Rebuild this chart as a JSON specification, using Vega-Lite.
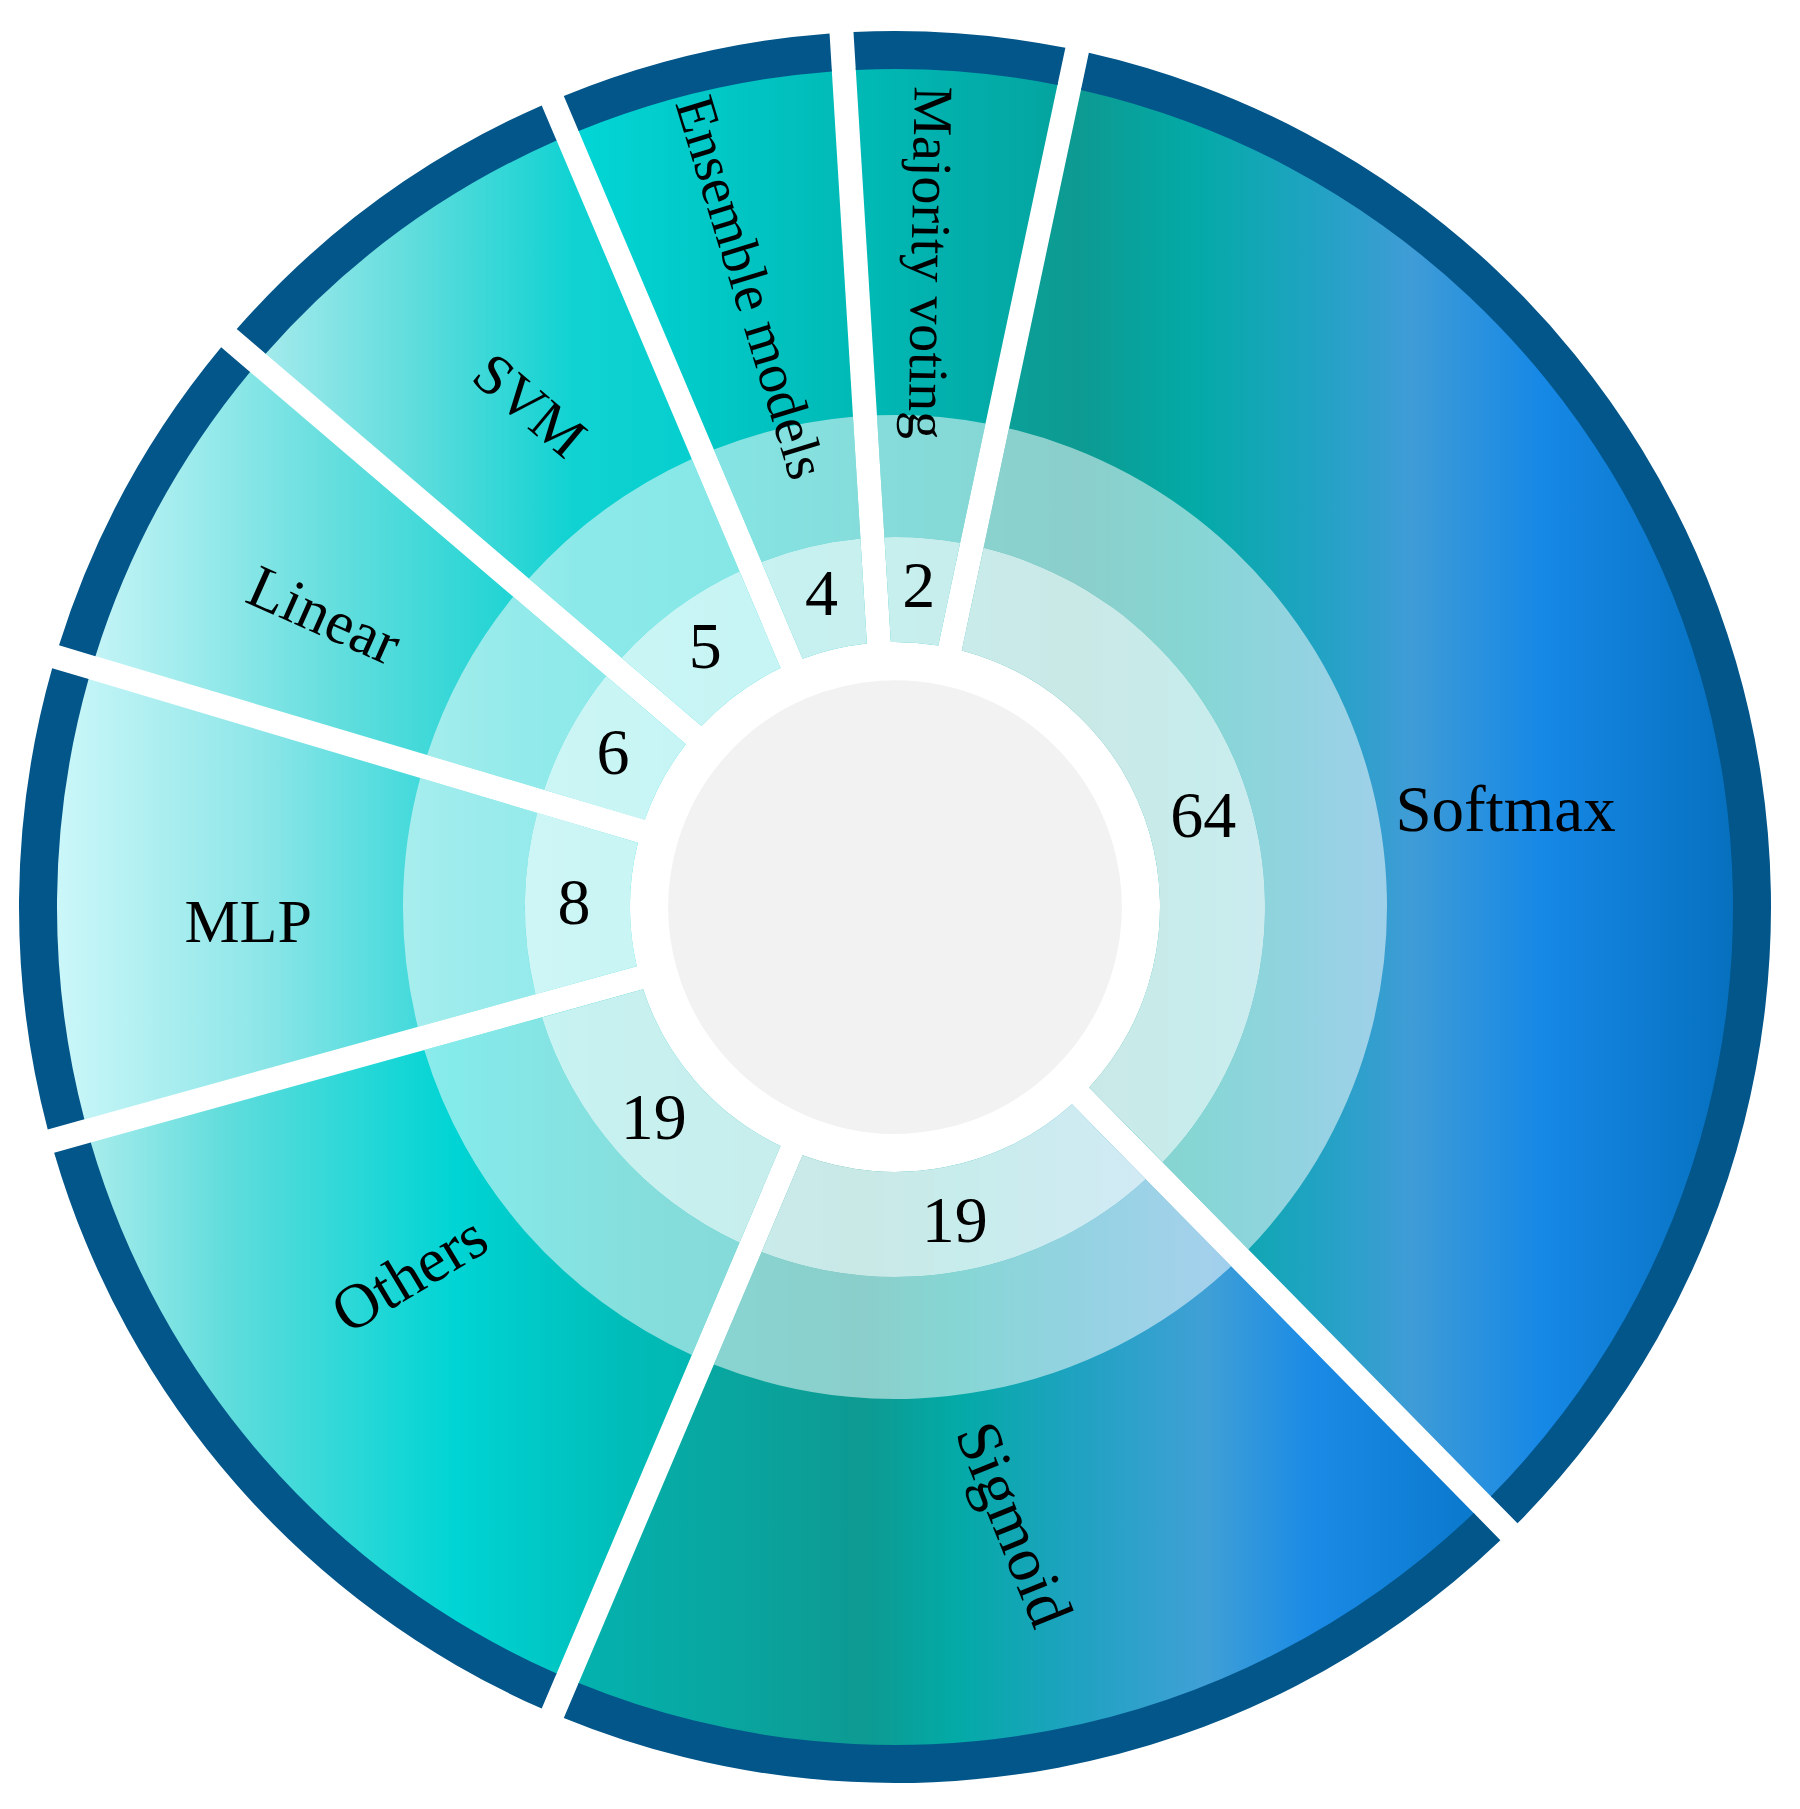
{
  "$schema": "https://vega.github.io/schema/vega-lite/v6.json",
  "width": 1800,
  "height": 1809,
  "autosize": {"type": "fit", "contains": "padding"},
  "padding": {"left": 0, "right": 10, "top": 5, "bottom": 0},
  "background": "white",
  "config": {"view": {"stroke": null}},
  "data": {
    "values": [
      {"category": "Softmax", "count": 64, "span": 123.5, "order": 1},
      {"category": "Sigmoid", "count": 19, "span": 67.5, "order": 2},
      {"category": "Others", "count": 19, "span": 51.5, "order": 3},
      {"category": "MLP", "count": 8, "span": 32.1, "order": 4},
      {"category": "Linear", "count": 6, "span": 23.9, "order": 5},
      {"category": "SVM", "count": 5, "span": 26.5, "order": 6},
      {"category": "Ensemble models", "count": 4, "span": 19.5, "order": 7},
      {"category": "Majority voting", "count": 2, "span": 15.5, "order": 8}
    ]
  },
  "transform": [
    {"stack": "span", "groupby": [], "sort": [{"field": "order", "order": "ascending"}], "as": ["a0", "a1"]},
    {"calculate": "(datum.a0 + datum.a1) / 2", "as": "mid"}
  ],
  "layer": [
    {
      "mark": {"type": "arc", "innerRadius": 0, "outerRadius": 226, "fill": "#f2f2f2", "stroke": "#f2f2f2", "strokeWidth": 1.5},
      "encoding": {
        "theta": {"field": "a0", "type": "quantitative", "scale": {"domain": [0, 360], "range": [0.20944, 6.49262]}},
        "theta2": {"field": "a1"}
      }
    },
    {
      "transform": [{"filter": "datum.category === 'Softmax'"}],
      "mark": {"type": "arc", "innerRadius": 265, "outerRadius": 840, "padAngle": 0.02725,
        "fill": {"gradient": "linear", "x1": 0, "y1": 0, "x2": 1, "y2": 0, "stops": [
          {"offset": 0, "color": "#0aa49c"}, {"offset": 0.15, "color": "#0d9a92"}, {"offset": 0.3, "color": "#03aaa6"},
          {"offset": 0.45, "color": "#1fa3c2"}, {"offset": 0.58, "color": "#3f9cd6"}, {"offset": 0.75, "color": "#1688e6"},
          {"offset": 1, "color": "#0670be"}]}},
      "encoding": {
        "theta": {"field": "a0", "type": "quantitative", "scale": {"domain": [0, 360], "range": [0.20944, 6.49262]}},
        "theta2": {"field": "a1"}
      }
    },
    {
      "transform": [{"filter": "datum.category === 'Sigmoid'"}],
      "mark": {"type": "arc", "innerRadius": 265, "outerRadius": 840, "padAngle": 0.02725,
        "fill": {"gradient": "linear", "x1": 0, "y1": 0, "x2": 1, "y2": 0, "stops": [
          {"offset": 0, "color": "#04b2ae"}, {"offset": 0.32, "color": "#0d9a92"}, {"offset": 0.42, "color": "#03aaa6"},
          {"offset": 0.56, "color": "#20a2c2"}, {"offset": 0.7, "color": "#40a0d6"}, {"offset": 0.82, "color": "#1a8ae6"},
          {"offset": 1, "color": "#0a78cc"}]}},
      "encoding": {
        "theta": {"field": "a0", "type": "quantitative", "scale": {"domain": [0, 360], "range": [0.20944, 6.49262]}},
        "theta2": {"field": "a1"}
      }
    },
    {
      "transform": [{"filter": "datum.category === 'Others'"}],
      "mark": {"type": "arc", "innerRadius": 265, "outerRadius": 840, "padAngle": 0.02725,
        "fill": {"gradient": "linear", "x1": 0, "y1": 0, "x2": 1, "y2": 0, "stops": [
          {"offset": 0, "color": "#a8ecec"}, {"offset": 0.2, "color": "#60dcdc"}, {"offset": 0.53, "color": "#00d4d4"},
          {"offset": 0.78, "color": "#00bcb8"}, {"offset": 1, "color": "#02b0ac"}]}},
      "encoding": {
        "theta": {"field": "a0", "type": "quantitative", "scale": {"domain": [0, 360], "range": [0.20944, 6.49262]}},
        "theta2": {"field": "a1"}
      }
    },
    {
      "transform": [{"filter": "datum.category === 'MLP'"}],
      "mark": {"type": "arc", "innerRadius": 265, "outerRadius": 840, "padAngle": 0.02725,
        "fill": {"gradient": "linear", "x1": 0, "y1": 0, "x2": 1, "y2": 0, "stops": [
          {"offset": 0, "color": "#ccf7f9"}, {"offset": 0.35, "color": "#8ee6e8"}, {"offset": 0.65, "color": "#3cd8da"},
          {"offset": 1, "color": "#08d0d0"}]}},
      "encoding": {
        "theta": {"field": "a0", "type": "quantitative", "scale": {"domain": [0, 360], "range": [0.20944, 6.49262]}},
        "theta2": {"field": "a1"}
      }
    },
    {
      "transform": [{"filter": "datum.category === 'Linear'"}],
      "mark": {"type": "arc", "innerRadius": 265, "outerRadius": 840, "padAngle": 0.02725,
        "fill": {"gradient": "linear", "x1": 0, "y1": 0, "x2": 1, "y2": 0, "stops": [
          {"offset": 0, "color": "#c4f4f6"}, {"offset": 0.4, "color": "#66dede"}, {"offset": 0.7, "color": "#22d4d4"},
          {"offset": 1, "color": "#00d0d0"}]}},
      "encoding": {
        "theta": {"field": "a0", "type": "quantitative", "scale": {"domain": [0, 360], "range": [0.20944, 6.49262]}},
        "theta2": {"field": "a1"}
      }
    },
    {
      "transform": [{"filter": "datum.category === 'SVM'"}],
      "mark": {"type": "arc", "innerRadius": 265, "outerRadius": 840, "padAngle": 0.02725,
        "fill": {"gradient": "linear", "x1": 0, "y1": 0, "x2": 1, "y2": 0, "stops": [
          {"offset": 0, "color": "#a4eaec"}, {"offset": 0.3, "color": "#5ddcdc"}, {"offset": 0.6, "color": "#10d2d2"},
          {"offset": 1, "color": "#00cccc"}]}},
      "encoding": {
        "theta": {"field": "a0", "type": "quantitative", "scale": {"domain": [0, 360], "range": [0.20944, 6.49262]}},
        "theta2": {"field": "a1"}
      }
    },
    {
      "transform": [{"filter": "datum.category === 'Ensemble models'"}],
      "mark": {"type": "arc", "innerRadius": 265, "outerRadius": 840, "padAngle": 0.02725,
        "fill": {"gradient": "linear", "x1": 0, "y1": 0, "x2": 1, "y2": 0, "stops": [
          {"offset": 0, "color": "#02d6d6"}, {"offset": 1, "color": "#00b8b4"}]}},
      "encoding": {
        "theta": {"field": "a0", "type": "quantitative", "scale": {"domain": [0, 360], "range": [0.20944, 6.49262]}},
        "theta2": {"field": "a1"}
      }
    },
    {
      "transform": [{"filter": "datum.category === 'Majority voting'"}],
      "mark": {"type": "arc", "innerRadius": 265, "outerRadius": 840, "padAngle": 0.02725,
        "fill": {"gradient": "linear", "x1": 0, "y1": 0, "x2": 1, "y2": 0, "stops": [
          {"offset": 0, "color": "#00bab6"}, {"offset": 1, "color": "#04a4a0"}]}},
      "encoding": {
        "theta": {"field": "a0", "type": "quantitative", "scale": {"domain": [0, 360], "range": [0.20944, 6.49262]}},
        "theta2": {"field": "a1"}
      }
    },
    {
      "mark": {"type": "arc", "innerRadius": 370, "outerRadius": 492, "padAngle": 0.039, "fill": "white", "fillOpacity": 0.52},
      "encoding": {
        "theta": {"field": "a0", "type": "quantitative", "scale": {"domain": [0, 360], "range": [0.20944, 6.49262]}},
        "theta2": {"field": "a1"}
      }
    },
    {
      "mark": {"type": "arc", "innerRadius": 265, "outerRadius": 370, "padAngle": 0.0527, "fill": "white", "fillOpacity": 0.78},
      "encoding": {
        "theta": {"field": "a0", "type": "quantitative", "scale": {"domain": [0, 360], "range": [0.20944, 6.49262]}},
        "theta2": {"field": "a1"}
      }
    },
    {
      "mark": {"type": "arc", "innerRadius": 838, "outerRadius": 876, "padAngle": 0.01978, "fill": "#03568a"},
      "encoding": {
        "theta": {"field": "a0", "type": "quantitative", "scale": {"domain": [0, 360], "range": [0.20944, 6.49262]}},
        "theta2": {"field": "a1"}
      }
    },
    {
      "mark": {"type": "text", "radius": 321, "font": "Liberation Serif", "fontSize": 66, "color": "black", "align": "center", "baseline": "middle"},
      "encoding": {
        "theta": {"field": "mid", "type": "quantitative", "scale": {"domain": [0, 360], "range": [0.20944, 6.49262]}},
        "text": {"field": "count", "type": "quantitative"}
      }
    },
    {
      "transform": [{"filter": "datum.category === 'Softmax'"}],
      "mark": {"type": "text", "radius": 618, "thetaOffset": 0.128, "angle": 0, "font": "Liberation Serif", "fontSize": 65, "color": "black", "align": "center", "baseline": "middle"},
      "encoding": {
        "theta": {"field": "mid", "type": "quantitative", "scale": {"domain": [0, 360], "range": [0.20944, 6.49262]}},
        "text": {"field": "category", "type": "nominal"}
      }
    },
    {
      "transform": [{"filter": "datum.category === 'Sigmoid'"}],
      "mark": {"type": "text", "radius": 629, "angle": 68, "font": "Liberation Serif", "fontSize": 63, "color": "black", "align": "center", "baseline": "middle"},
      "encoding": {
        "theta": {"field": "mid", "type": "quantitative", "scale": {"domain": [0, 360], "range": [0.20944, 6.49262]}},
        "text": {"field": "category", "type": "nominal"}
      }
    },
    {
      "transform": [{"filter": "datum.category === 'Others'"}],
      "mark": {"type": "text", "radius": 609, "thetaOffset": 0.07, "angle": -31, "font": "Liberation Serif", "fontSize": 63, "color": "black", "align": "center", "baseline": "middle"},
      "encoding": {
        "theta": {"field": "mid", "type": "quantitative", "scale": {"domain": [0, 360], "range": [0.20944, 6.49262]}},
        "text": {"field": "category", "type": "nominal"}
      }
    },
    {
      "transform": [{"filter": "datum.category === 'MLP'"}],
      "mark": {"type": "text", "radius": 647, "thetaOffset": -0.034, "angle": 0, "font": "Liberation Serif", "fontSize": 62, "color": "black", "align": "center", "baseline": "middle"},
      "encoding": {
        "theta": {"field": "mid", "type": "quantitative", "scale": {"domain": [0, 360], "range": [0.20944, 6.49262]}},
        "text": {"field": "category", "type": "nominal"}
      }
    },
    {
      "transform": [{"filter": "datum.category === 'Linear'"}],
      "mark": {"type": "text", "radius": 641, "thetaOffset": -0.029, "angle": 24, "font": "Liberation Serif", "fontSize": 61, "color": "black", "align": "center", "baseline": "middle"},
      "encoding": {
        "theta": {"field": "mid", "type": "quantitative", "scale": {"domain": [0, 360], "range": [0.20944, 6.49262]}},
        "text": {"field": "category", "type": "nominal"}
      }
    },
    {
      "transform": [{"filter": "datum.category === 'SVM'"}],
      "mark": {"type": "text", "radius": 620, "angle": 40, "font": "Liberation Serif", "fontSize": 58, "color": "black", "align": "center", "baseline": "middle"},
      "encoding": {
        "theta": {"field": "mid", "type": "quantitative", "scale": {"domain": [0, 360], "range": [0.20944, 6.49262]}},
        "text": {"field": "category", "type": "nominal"}
      }
    },
    {
      "transform": [{"filter": "datum.category === 'Ensemble models'"}],
      "mark": {"type": "text", "radius": 636, "angle": 73, "font": "Liberation Serif", "fontSize": 56, "color": "black", "align": "center", "baseline": "middle"},
      "encoding": {
        "theta": {"field": "mid", "type": "quantitative", "scale": {"domain": [0, 360], "range": [0.20944, 6.49262]}},
        "text": {"field": "category", "type": "nominal"}
      }
    },
    {
      "transform": [{"filter": "datum.category === 'Majority voting'"}],
      "mark": {"type": "text", "radius": 645, "thetaOffset": -0.022, "angle": 91, "font": "Liberation Serif", "fontSize": 56, "color": "black", "align": "center", "baseline": "middle"},
      "encoding": {
        "theta": {"field": "mid", "type": "quantitative", "scale": {"domain": [0, 360], "range": [0.20944, 6.49262]}},
        "text": {"field": "category", "type": "nominal"}
      }
    }
  ]
}
